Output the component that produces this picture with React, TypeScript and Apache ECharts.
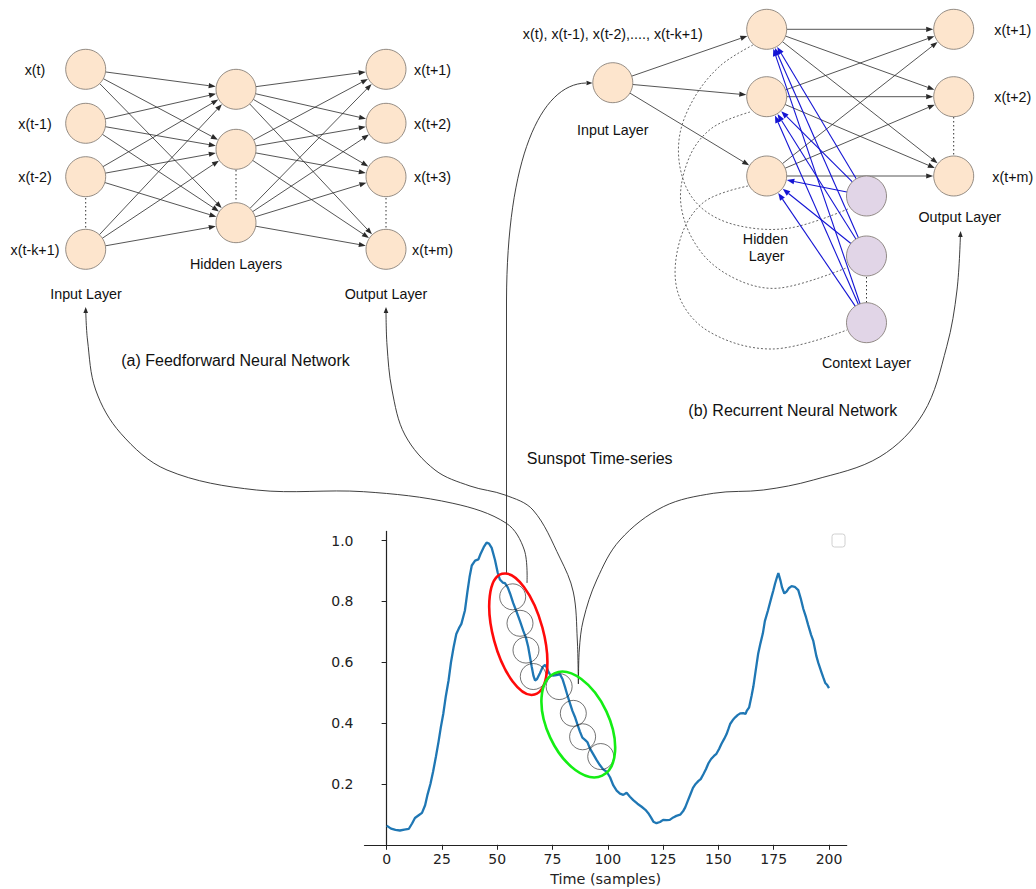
import React, { useEffect, useRef } from 'react';
import * as echarts from 'echarts';

// ---------- data ----------
const timeSteps = [
  0, 2, 4, 6, 8, 10, 11.5, 12.8, 14.5, 16, 17.4, 18.5, 19.8, 21, 22.3, 23.5, 24.5, 25.6, 26.8, 28,
  29.1, 30.3, 31.5, 32.7, 33.8, 35.4, 36.5, 37.5, 38.5, 40, 41.5, 42.4, 43.9, 45.2, 46.3, 47.5, 49,
  50.2, 51.2, 52.5, 53.5, 54.8, 55.8, 57.2, 58.8, 60.3, 61.8, 63, 64, 65, 65.6, 66.4, 67.1, 68, 69.3,
  70.6, 71.6, 72.4, 73.1, 74, 75.3, 76.8, 78.4, 79.5, 80.6, 81.8, 82.9, 84, 85.1, 86.3, 87.4, 88.5,
  89.7, 90.8, 91.9, 93.4, 94.9, 96.4, 97.9, 99.5, 101, 102.5, 104, 105.5, 107, 108.5, 110, 111.5,
  113.4, 115.3, 117, 118.3, 119.5, 120.6, 122, 123.6, 125, 126.6, 128, 129.6, 131, 132.7, 134, 135,
  136.2, 137.4, 138.5, 139.7, 141, 142, 143.2, 144.4, 145.5, 146.7, 148, 149.1, 150.3, 151.4, 152.6,
  153.7, 154.5, 155.3, 156.5, 157.6, 158.8, 160, 161.2, 162.3, 162.8, 163.9, 165, 165.8, 166.8, 168,
  169, 170.1, 171, 172.4, 174, 174.8, 175.6, 176.5, 177.1, 178, 178.8, 179.8, 180.8, 181.8, 183.1,
  184.5, 186.1, 187.2, 188.4, 189.6, 190.6, 191.9, 192.9, 194.3, 195.2, 196.6, 197.4, 198.3, 199.2, 200
];
const sunspot = [
  0.063, 0.053, 0.049, 0.047, 0.05, 0.052, 0.07, 0.088, 0.097, 0.105, 0.13, 0.165, 0.2, 0.24, 0.29,
  0.34, 0.386, 0.43, 0.49, 0.54, 0.6, 0.65, 0.693, 0.712, 0.726, 0.77, 0.83, 0.88, 0.918, 0.934,
  0.938, 0.955, 0.978, 0.993, 0.99, 0.976, 0.936, 0.895, 0.872, 0.862, 0.86, 0.845, 0.826, 0.795,
  0.765, 0.735, 0.703, 0.68, 0.651, 0.61, 0.585, 0.555, 0.54, 0.545, 0.564, 0.585, 0.591, 0.583,
  0.569, 0.558, 0.556, 0.558, 0.56, 0.545, 0.52, 0.49, 0.465, 0.44, 0.421, 0.395, 0.372, 0.352,
  0.345, 0.337, 0.317, 0.298, 0.279, 0.262, 0.248, 0.24, 0.222, 0.195, 0.178, 0.168, 0.164, 0.171,
  0.158, 0.147, 0.135, 0.125, 0.115, 0.104, 0.09, 0.076, 0.071, 0.075, 0.082, 0.081, 0.082, 0.09,
  0.095, 0.099, 0.11, 0.123, 0.145, 0.167, 0.187, 0.2, 0.21, 0.216, 0.232, 0.249, 0.268, 0.282,
  0.292, 0.299, 0.315, 0.332, 0.348, 0.364, 0.38, 0.397, 0.41, 0.419, 0.427, 0.432, 0.433, 0.43,
  0.44, 0.452, 0.49, 0.52, 0.57, 0.629, 0.662, 0.695, 0.735, 0.77, 0.814, 0.835, 0.858, 0.88, 0.893,
  0.87, 0.845, 0.826, 0.832, 0.843, 0.85, 0.848, 0.837, 0.81, 0.775, 0.748, 0.722, 0.69, 0.67, 0.62,
  0.597, 0.567, 0.55, 0.532, 0.525, 0.515
];
// sliding windows (circles on the curve)
const inputWindowX = [57.0, 60.3, 63.0, 66.3];
const inputWindowY = [0.815, 0.728, 0.64, 0.553];
const outputWindowX = [78.0, 84.4, 88.6, 96.8];
const outputWindowY = [0.52, 0.432, 0.355, 0.29];
const xTicks = [0, 25, 50, 75, 100, 125, 150, 175, 200];
const yTicks = [0.2, 0.4, 0.6, 0.8, 1.0];

// diagram labels
const ffInputLabels = ['x(t)', 'x(t-1)', 'x(t-2)', 'x(t-k+1)'];
const ffOutputLabels = ['x(t+1)', 'x(t+2)', 'x(t+3)', 'x(t+m)'];
const rnnOutputLabels = ['x(t+1)', 'x(t+2)', 'x(t+m)'];

// ---------- layout (pixels) ----------
const R = 20;
const ffIn = [[85.7, 69.3], [85.7, 123.3], [85.7, 176.7], [85.7, 249.3]];
const ffHid = [[236, 89.3], [236, 149.3], [236, 222.7]];
const ffOut = [[386, 69.3], [386, 123.3], [386, 176.7], [386, 249.3]];
const rnIn = [612.8, 82.7];
const rnHid = [[766.7, 29.3], [766.7, 96.7], [766.7, 176]];
const rnOut = [[953.7, 29.3], [953.7, 96.7], [953.7, 176]];
const rnCtx = [[866.5, 196], [866.5, 256], [866.5, 322.7]];

const FONT = '"Liberation Sans", Arial, Helvetica, sans-serif';
const PEACH = '#fde5cd';
const PURPLE = '#e1d5e7';
const NODE_STROKE = '#7a726b';
const EDGE = '#2a2a2a';
const BLUE = '#1414d4';

function arrowEls(x1: number, y1: number, x2: number, y2: number, color: string, lw: number, r1: number, r2: number, head = 7, hw = 2.6): any[] {
  const dx = x2 - x1, dy = y2 - y1;
  const L = Math.hypot(dx, dy);
  const ux = dx / L, uy = dy / L;
  const sx = x1 + ux * r1, sy = y1 + uy * r1;
  const ex = x2 - ux * r2, ey = y2 - uy * r2;
  const bx = ex - ux * head, by = ey - uy * head;
  return [
    { type: 'line', silent: true, shape: { x1: sx, y1: sy, x2: bx, y2: by }, style: { stroke: color, lineWidth: lw } },
    { type: 'polygon', silent: true, shape: { points: [[ex, ey], [bx - uy * hw, by + ux * hw], [bx + uy * hw, by - ux * hw]] }, style: { fill: color } },
  ];
}

function headAt(px: number, py: number, tx: number, ty: number, color: string, head = 7, hw = 2.6): any {
  const dx = tx - px, dy = ty - py;
  const L = Math.hypot(dx, dy);
  const ux = dx / L, uy = dy / L;
  const bx = tx - ux * head, by = ty - uy * head;
  return { type: 'polygon', silent: true, shape: { points: [[tx, ty], [bx - uy * hw, by + ux * hw], [bx + uy * hw, by - ux * hw]] }, style: { fill: color } };
}

function node(c: number[], fill: string): any {
  return { type: 'circle', silent: true, shape: { cx: c[0], cy: c[1], r: R }, style: { fill, stroke: NODE_STROKE, lineWidth: 0.8 } };
}

function label(x: number, y: number, text: string, size = 14.3): any {
  return {
    type: 'text', silent: true, x, y,
    style: { text, fill: '#111', fontSize: size, fontFamily: FONT, align: 'center', verticalAlign: 'middle', textAlign: 'center', textVerticalAlign: 'middle' },
  };
}

function dotted(x: number, y1: number, y2: number): any {
  return { type: 'line', silent: true, shape: { x1: x, y1, x2: x, y2 }, style: { stroke: '#333', lineWidth: 1, lineDash: [1.5, 2.5] } };
}

function curve(points: number[][], dash?: number[]): any {
  return { type: 'polyline', silent: true, shape: { points, smooth: 0.35 }, style: { stroke: dash ? '#555' : '#2a2a2a', lineWidth: 0.9, fill: 'none', lineDash: dash } };
}

function buildGraphics(): any[] {
  const els: any[] = [];
  // Feedforward edges
  ffIn.forEach((a) => ffHid.forEach((b) => els.push(...arrowEls(a[0], a[1], b[0], b[1], EDGE, 0.8, R, R + 0.5))));
  ffHid.forEach((a) => ffOut.forEach((b) => els.push(...arrowEls(a[0], a[1], b[0], b[1], EDGE, 0.8, R, R + 0.5))));
  // RNN edges
  rnHid.forEach((b) => els.push(...arrowEls(rnIn[0], rnIn[1], b[0], b[1], EDGE, 0.8, R, R + 0.5)));
  rnHid.forEach((a) => rnOut.forEach((b) => els.push(...arrowEls(a[0], a[1], b[0], b[1], EDGE, 0.8, R, R + 0.5))));
  // dotted recurrent loops hidden -> context
  const dash = [2, 2];
  els.push(curve([[753, 45], [720, 66], [693, 100], [679, 140], [684, 182], [704, 210], [740, 226], [790, 228], [848, 209]], dash));
  els.push(curve([[750, 112], [712, 128], [689, 158], [681, 205], [701, 252], [738, 280], [780, 288], [846, 268]], dash));
  els.push(curve([[748, 186], [704, 202], [680, 240], [678, 293], [708, 331], [772, 349], [847, 330]], dash));
  // context -> hidden (blue)
  rnCtx.forEach((a) => rnHid.forEach((b) => els.push(...arrowEls(a[0], a[1], b[0], b[1], BLUE, 1.1, R, R + 0.5, 7.5, 2.9))));
  // vertical dotted separators
  els.push(dotted(ffIn[2][0], 198, 229));
  els.push(dotted(ffHid[1][0], 170, 202));
  els.push(dotted(ffOut[2][0], 198, 229));
  els.push(dotted(rnOut[1][0], 117, 156));
  els.push(dotted(rnCtx[1][0], 277, 303));
  // nodes
  [...ffIn, ...ffHid, ...ffOut, rnIn, ...rnHid, ...rnOut].forEach((c) => els.push(node(c, PEACH)));
  rnCtx.forEach((c) => els.push(node(c, PURPLE)));
  // labels
  ffInputLabels.forEach((t, i) => els.push(label(35, ffIn[i][1] + 0.5, t)));
  ffOutputLabels.forEach((t, i) => els.push(label(432.5, ffOut[i][1] + 0.5, t)));
  els.push(label(236, 263.5, 'Hidden Layers'));
  els.push(label(86, 293.5, 'Input Layer'));
  els.push(label(386, 293.5, 'Output Layer'));
  els.push(label(235.5, 360, '(a) Feedforward Neural Network', 16));
  els.push(label(612.8, 33.5, 'x(t), x(t-1), x(t-2),...., x(t-k+1)'));
  els.push(label(612.8, 130, 'Input Layer'));
  els.push(label(765.5, 238.5, 'Hidden'));
  els.push(label(766.7, 256, 'Layer'));
  els.push(label(959.8, 216.7, 'Output Layer'));
  rnnOutputLabels.forEach((t, i) => els.push(label(1012.8, rnOut[i][1] + 0.7, t)));
  els.push(label(866.5, 363.3, 'Context Layer'));
  els.push(label(792.8, 410, '(b) Recurrent Neural Network', 16));
  els.push(label(599.7, 458.3, 'Sunspot Time-series', 16));

  // connectors from the time series to the networks
  const cA = [[527, 583], [524.3, 550], [506.4, 523.3], [452.9, 503.3], [363.6, 491.7], [256.4, 490], [167, 470], [120.7, 433.3], [95.7, 390], [87.5, 340], [85.7, 309]];
  els.push(curve(cA));
  els.push(headAt(85.7, 316, 85.7, 307, EDGE, 6, 2.3));
  const cB = [[578.3, 684], [577.3, 640], [573.3, 592], [560, 558], [533, 510], [505, 495], [470, 486], [435, 470], [405, 435], [392, 390], [387, 345], [386, 309]];
  els.push(curve(cB));
  els.push(headAt(386, 316, 386, 307, EDGE, 6, 2.3));
  const cD = [[578.5, 684], [579.3, 650], [583.3, 620], [596.7, 580], [620, 540], [663.3, 506.7], [713.3, 493.3], [763.3, 490], [813.3, 480], [880, 456.7], [923.3, 413.3], [946.7, 346.7], [957, 290], [960.5, 233]];
  els.push(curve(cD));
  els.push(headAt(960.3, 240, 960.6, 231, EDGE, 6, 2.3));
  els.push({ type: 'line', silent: true, shape: { x1: 506.5, y1: 574, x2: 506.5, y2: 300 }, style: { stroke: '#2a2a2a', lineWidth: 0.9 } });
  els.push({ type: 'bezierCurve', silent: true, shape: { x1: 506.5, y1: 300, cpx1: 507, cpy1: 160, cpx2: 540, cpy2: 84, x2: 586, y2: 83 }, style: { stroke: '#2a2a2a', lineWidth: 0.9, fill: 'none' } });
  els.push(headAt(580, 83, 592.5, 83, EDGE, 6, 2.3));

  // window ellipses
  els.push({ type: 'ellipse', silent: true, z: 20, x: 518.3, y: 634.2, rotation: (15 * Math.PI) / 180, shape: { cx: 0, cy: 0, rx: 25, ry: 62.5 }, style: { fill: 'none', stroke: '#ff0a0a', lineWidth: 2.6 } });
  els.push({ type: 'ellipse', silent: true, z: 20, x: 578.3, y: 724.5, rotation: (25 * Math.PI) / 180, shape: { cx: 0, cy: 0, rx: 31, ry: 56.5 }, style: { fill: 'none', stroke: '#14ee14', lineWidth: 2.6 } });
  // empty legend box
  els.push({ type: 'rect', silent: true, shape: { x: 832, y: 534, width: 13, height: 13, r: 2.5 }, style: { fill: '#fff', stroke: '#d0d0d0', lineWidth: 1 } });
  return els;
}

export default function App() {
  const ref = useRef<HTMLDivElement>(null);
  useEffect(() => {
    if (!ref.current) return;
    const chart = echarts.init(ref.current, null, { renderer: 'svg' });
    const axisFont = { fontFamily: '"DejaVu Sans", sans-serif', fontSize: 14, color: '#222' };
    const option: any = {
      animation: false,
      backgroundColor: '#ffffff',
      grid: { left: 364.5, right: 189.3, top: 531.4, bottom: 44.2, containLabel: false },
      xAxis: {
        type: 'value', min: -10, max: 208,
        name: 'Time (samples)', nameLocation: 'middle', nameGap: 27,
        nameTextStyle: { fontFamily: '"DejaVu Sans", sans-serif', fontSize: 14.4, color: '#222' },
        axisLine: { show: true, lineStyle: { color: '#222', width: 1.2 } },
        axisTick: { show: true, customValues: xTicks, length: 5, lineStyle: { color: '#222', width: 1 } },
        axisLabel: { customValues: xTicks, margin: 7, ...axisFont },
        splitLine: { show: false },
      },
      yAxis: {
        type: 'value', min: 0, max: 1.03,
        axisLine: { show: true, lineStyle: { color: '#222', width: 1.2 } },
        axisTick: { show: true, customValues: yTicks, length: 5, lineStyle: { color: '#222', width: 1 } },
        axisLabel: { customValues: yTicks, margin: 11, formatter: (v: number) => v.toFixed(1), ...axisFont },
        splitLine: { show: false },
      },
      series: [
        {
          type: 'line', name: 'sunspot', showSymbol: false, symbol: 'none',
          data: timeSteps.map((t, i) => [t, sunspot[i]]),
          lineStyle: { color: '#1f77b4', width: 2.3 }, z: 2,
        },
        {
          type: 'scatter', name: 'input window', symbol: 'circle', symbolSize: 26,
          data: inputWindowX.map((x, i) => [x, inputWindowY[i]]),
          itemStyle: { color: 'rgba(0,0,0,0)', borderColor: '#222', borderWidth: 0.8 }, z: 3,
        },
        {
          type: 'scatter', name: 'output window', symbol: 'circle', symbolSize: 26,
          data: outputWindowX.map((x, i) => [x, outputWindowY[i]]),
          itemStyle: { color: 'rgba(0,0,0,0)', borderColor: '#222', borderWidth: 0.8 }, z: 3,
        },
      ],
      graphic: { elements: buildGraphics() },
    };
    chart.setOption(option);
    return () => chart.dispose();
  }, []);
  return <div ref={ref} style={{ position: 'fixed', left: 0, top: 0, width: 1036, height: 889, background: '#fff' }} />;
}
